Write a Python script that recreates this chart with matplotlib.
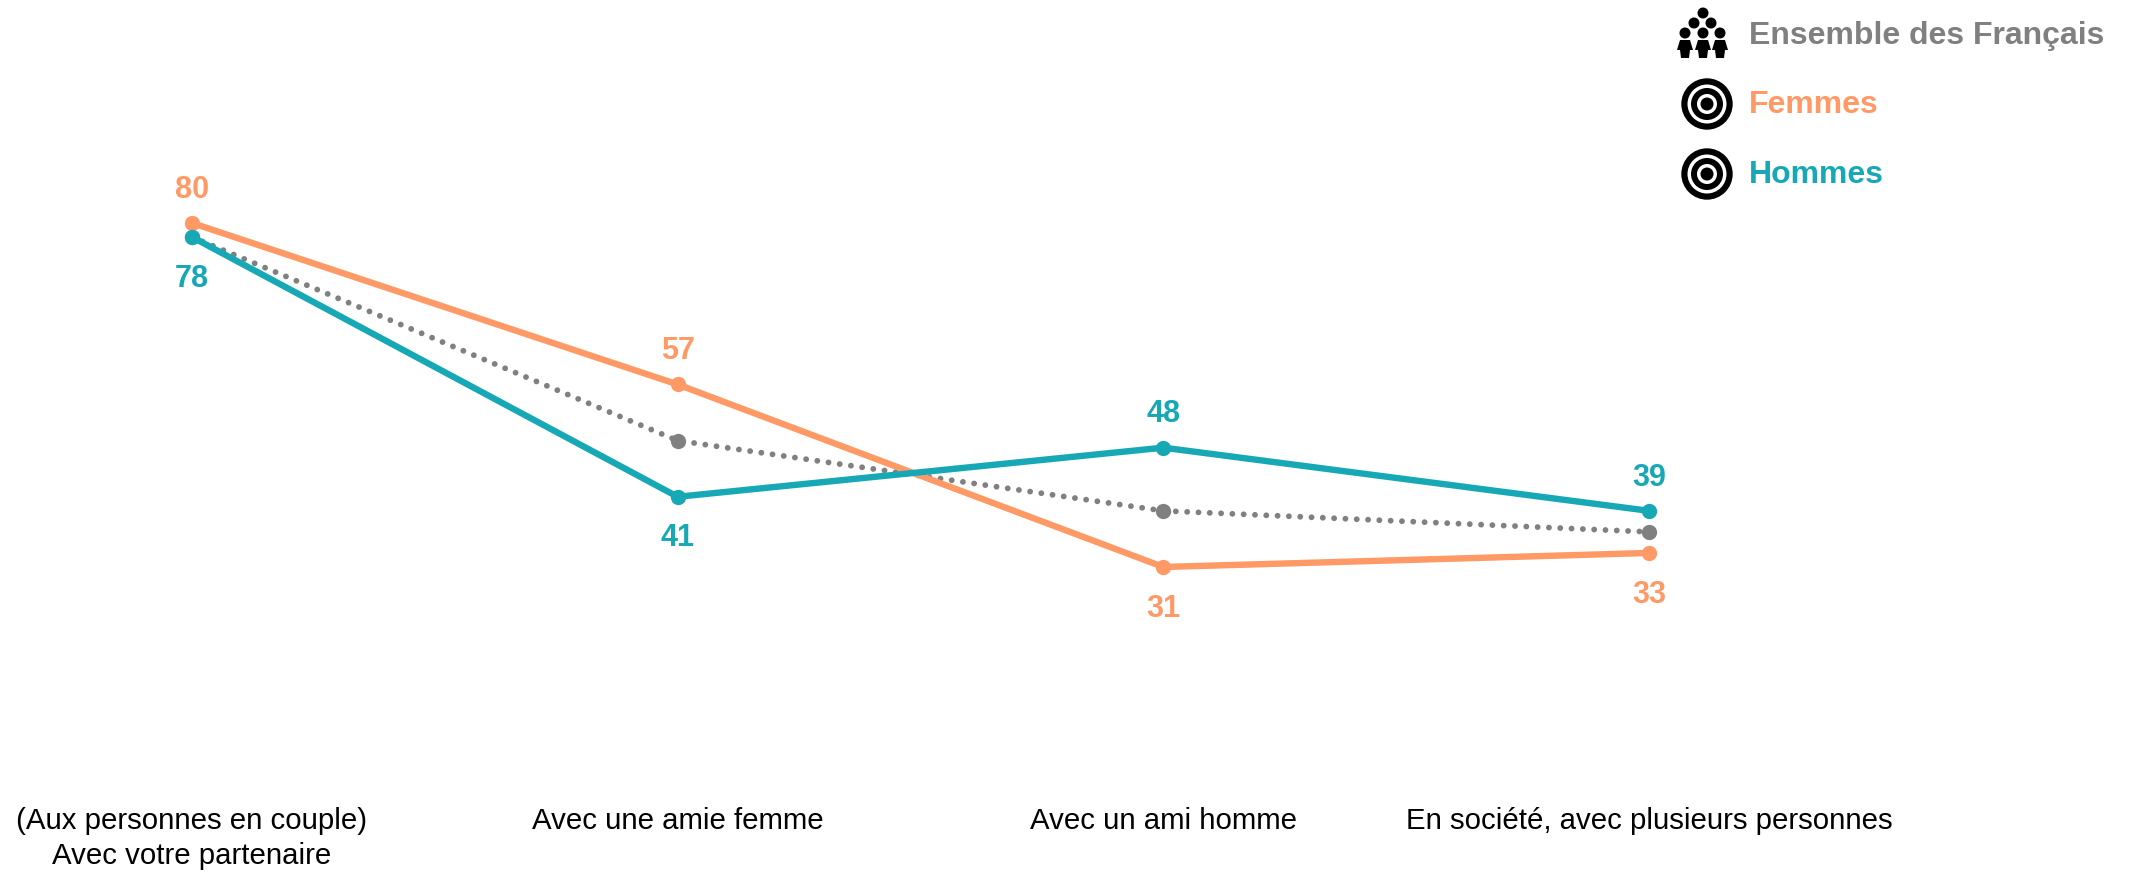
import matplotlib
matplotlib.use('Agg')
import matplotlib.pyplot as plt
from matplotlib.patches import Circle, Polygon

plt.rcParams['font.family'] = ['Liberation Sans', 'DejaVu Sans']

categories = ['(Aux personnes en couple)\nAvec votre partenaire', 'Avec une amie femme',
              'Avec un ami homme', 'En société, avec plusieurs personnes']
ensemble = [78, 49, 39, 36]
femmes = [80, 57, 31, 33]
hommes = [78, 41, 48, 39]

grey = '#808080'
orange = '#FF9966'
teal = '#17A8B5'

W, H = 2136, 872
fig = plt.figure(figsize=(W / 100, H / 100), dpi=100)

# axes placed so categories land at the right pixels, no frame
ax = fig.add_axes([192 / W, 1 - 567 / H, (1649 - 192) / W, (567 - 223) / H])
ax.set_xlim(0, 3)
ax.set_ylim(31, 80)
ax.axis('off')

x = list(range(len(categories)))
ax.plot(x, ensemble, color=grey, lw=4.2, ls=(0, (0.01, 1.93)), dash_capstyle='round',
        marker='o', ms=11, mew=0, clip_on=False, zorder=2)
ax.plot(x, femmes, color=orange, lw=4.6, marker='o', ms=11, mew=0, clip_on=False, zorder=3)
ax.plot(x, hommes, color=teal, lw=4.6, marker='o', ms=11, mew=0, clip_on=False, zorder=4)

# value labels, above or below depending on who is on top
for i in x:
    for vals, other, col in [(femmes, hommes, orange), (hommes, femmes, teal)]:
        up = vals[i] > other[i]
        ax.annotate(str(vals[i]), (i, vals[i]), xytext=(0, 24 if up else -30),
                    textcoords='offset points', ha='center', va='center',
                    color=col, fontsize=22, fontweight='bold', annotation_clip=False)

# category labels
for i, lab in zip(x, categories):
    ax.annotate(lab, (i, 31), xytext=(0, -(807 - 567) * 0.72), textcoords='offset points',
                ha='center', va='top', fontsize=21.2, color='black', annotation_clip=False,
                linespacing=1.3)

# legend with drawn icons, in pixel coords
lg = fig.add_axes([0, 0, 1, 1])
lg.set_xlim(0, W)
lg.set_ylim(H, 0)
lg.axis('off')
lg.patch.set_alpha(0)

for name, col, ty in [('Ensemble des Français', grey, 36), ('Femmes', orange, 105), ('Hommes', teal, 175)]:
    lg.text(1749, ty, name, color=col, fontsize=23, fontweight='bold', va='center', ha='left')

for cy in [104, 174]:
    for r, c in [(25.7, 'black'), (19.5, 'white'), (16, 'black'), (10, 'white'), (6.5, 'black')]:
        lg.add_patch(Circle((1707, cy), r, color=c, lw=0))

for cx, cy in [(1703, 13), (1694, 23), (1711, 23), (1685, 33), (1703, 33), (1720, 33)]:
    lg.add_patch(Circle((cx, cy), 5.5, color='black', lw=0))
for cx in [1685, 1703, 1720]:
    lg.add_patch(Polygon([(cx - 5, 40), (cx + 5, 40), (cx + 8, 50), (cx + 5, 50), (cx + 4, 58),
                          (cx - 4, 58), (cx - 5, 50), (cx - 8, 50)], color='black', lw=0))

fig.savefig('out.png', dpi=100, facecolor='white')
